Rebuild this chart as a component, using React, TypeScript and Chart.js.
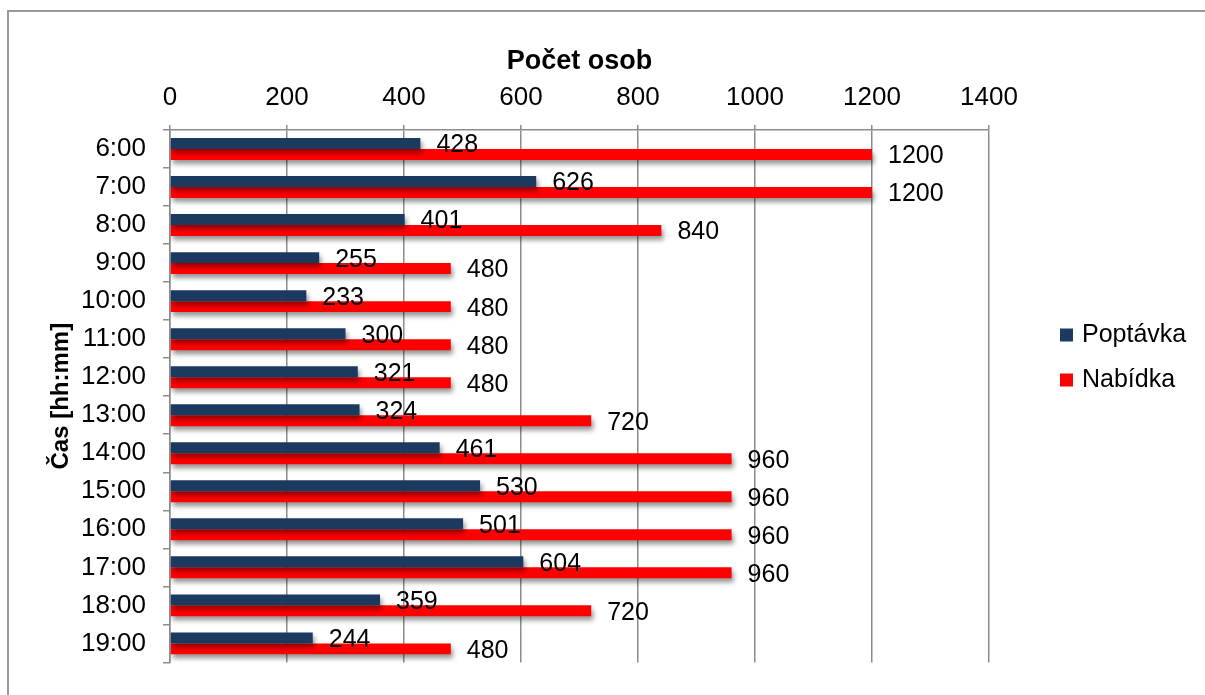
import React, { useEffect, useRef } from "react";
import { Chart, registerables } from "chart.js";

Chart.register(...registerables);

const categories = ["6:00", "7:00", "8:00", "9:00", "10:00", "11:00", "12:00", "13:00", "14:00", "15:00", "16:00", "17:00", "18:00", "19:00"];
const poptavka = [428, 626, 401, 255, 233, 300, 321, 324, 461, 530, 501, 604, 359, 244];
const nabidka = [1200, 1200, 840, 480, 480, 480, 480, 720, 960, 960, 960, 960, 720, 480];
const seriesNames = ["Poptávka", "Nabídka"];
const seriesColors = ["#1C3A60", "#FF0000"];
const xTitle = "Počet osob";
const yTitle = "Čas [hh:mm]";

const FONT = "'Liberation Sans', Arial, sans-serif";
const GRID = "#8c8c8c";

const effectsPlugin = {
  id: "effects",
  beforeDatasetsDraw(chart: any) {
    const ctx = chart.ctx;
    ctx.save();
    ctx.shadowColor = "rgba(0,0,0,0.42)";
    ctx.shadowBlur = 5;
    ctx.shadowOffsetX = 2;
    ctx.shadowOffsetY = 4;
  },
  afterDatasetsDraw(chart: any) {
    const ctx = chart.ctx;
    ctx.restore();
    ctx.save();
    ctx.fillStyle = "#000";
    ctx.font = `25px ${FONT}`;
    ctx.textAlign = "left";
    ctx.textBaseline = "middle";
    chart.data.datasets.forEach((ds: any, di: number) => {
      const meta = chart.getDatasetMeta(di);
      meta.data.forEach((el: any, i: number) => {
        ctx.fillText(String(ds.data[i]), el.x + 16, el.y + 2);
      });
    });
    ctx.restore();
  },
  afterDraw(chart: any) {
    const ctx = chart.ctx;
    ctx.save();
    ctx.font = `25px ${FONT}`;
    ctx.textAlign = "left";
    ctx.textBaseline = "middle";
    const x0 = 1060;
    const ys = [335, 380];
    chart.data.datasets.forEach((ds: any, di: number) => {
      ctx.fillStyle = ds.backgroundColor;
      ctx.fillRect(x0, ys[di] - 6.5, 13, 13);
      ctx.fillStyle = "#000";
      ctx.fillText(ds.label, x0 + 22, ys[di]);
    });
    ctx.restore();
  },
};

export default function App() {
  const ref = useRef<HTMLCanvasElement | null>(null);
  useEffect(() => {
    if (!ref.current) return;
    const chart = new Chart(ref.current, {
      type: "bar",
      data: {
        labels: categories,
        datasets: [
          { label: seriesNames[0], data: poptavka, backgroundColor: seriesColors[0], categoryPercentage: 0.577, barPercentage: 1 },
          { label: seriesNames[1], data: nabidka, backgroundColor: seriesColors[1], categoryPercentage: 0.577, barPercentage: 1 },
        ],
      },
      options: {
        indexAxis: "y",
        responsive: false,
        animation: false,
        layout: { padding: { left: 0, top: 0, right: 216, bottom: 22 } },
        plugins: { legend: { display: false }, tooltip: { enabled: false } },
        scales: {
          x: {
            position: "top",
            min: 0,
            max: 1400,
            ticks: { stepSize: 200, color: "#000", font: { size: 26, family: FONT }, padding: 12, callback: (v: any) => String(v) },
            grid: { color: GRID, lineWidth: 1.5, tickLength: 5 },
            border: { color: GRID, width: 1.5 },
            title: { display: true, text: xTitle, color: "#000", font: { size: 27, weight: "bold", family: FONT }, padding: { top: 45, bottom: 0 } },
            afterFit: (s: any) => { s.height = 130; },
          },
          y: {
            ticks: { color: "#000", font: { size: 26, family: FONT }, padding: 17 },
            grid: { drawOnChartArea: false, offset: true, tickLength: 7, color: GRID, lineWidth: 1.5 },
            border: { color: GRID, width: 1.5 },
            title: { display: true, text: yTitle, color: "#000", font: { size: 24, weight: "bold", family: FONT }, padding: { top: 47, bottom: 0 } },
            afterFit: (s: any) => { s.width = 170; },
          },
        },
      } as any,
      plugins: [effectsPlugin],
    });
    return () => chart.destroy();
  }, []);

  return (
    <div style={{ position: "fixed", left: 0, top: 0, width: 1205, height: 695, background: "#fff", overflow: "hidden" }}>
      <div style={{ position: "absolute", left: 7, top: 10, width: 1220, height: 720, border: "2px solid #999", boxSizing: "border-box" }} />
      <canvas ref={ref} width={1205} height={695} style={{ position: "absolute", left: 0, top: 0, width: 1205, height: 695 }} />
    </div>
  );
}
